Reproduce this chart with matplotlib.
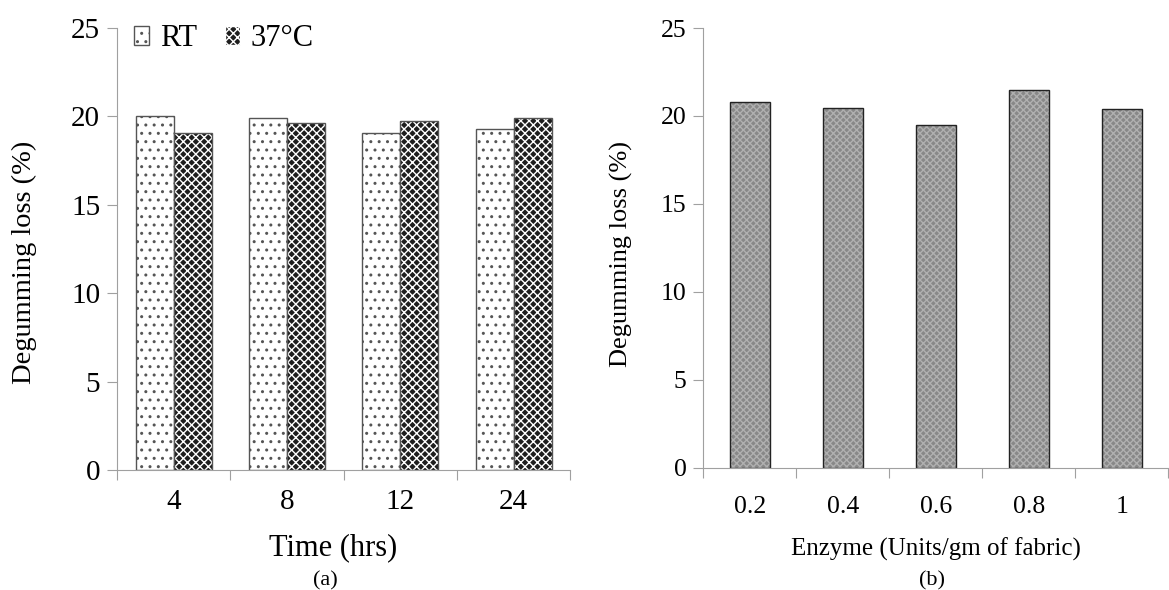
import numpy as np
import matplotlib.pyplot as plt
from matplotlib.patches import Patch

plt.rcParams['font.family'] = ['Liberation Serif', 'DejaVu Serif']
plt.rcParams['hatch.linewidth'] = 1.0

# data
time_labels = ['4', '8', '12', '24']
rt_loss = [20.0, 19.9, 19.05, 19.3]
warm_loss = [19.05, 19.65, 19.75, 19.9]

enzyme_labels = ['0.2', '0.4', '0.6', '0.8', '1']
enzyme_loss = [20.8, 20.45, 19.5, 21.45, 20.4]

AX_GRAY = '#a0a0a0'


def style_axes(ax, n, labels, tick_size, pad):
    ax.set_xlim(-0.5, n - 0.5)
    ax.set_ylim(0, 25)
    ax.set_yticks(range(0, 26, 5))
    ax.set_xticks(np.arange(-0.5, n, 1.0))
    ax.set_xticklabels([])
    ax.set_xticks(np.arange(n), minor=True)
    ax.set_xticklabels(labels, minor=True)
    ax.tick_params(axis='x', which='minor', length=0, pad=pad, labelsize=tick_size)
    ax.tick_params(axis='x', which='major', length=7, color=AX_GRAY)
    ax.tick_params(axis='y', length=7, color=AX_GRAY, labelsize=tick_size, pad=5)
    for s in ['top', 'right']:
        ax.spines[s].set_visible(False)
    for s in ['left', 'bottom']:
        ax.spines[s].set_color(AX_GRAY)


fig = plt.figure(figsize=(11.69, 5.9), dpi=100)

# (a) time
ax1 = fig.add_axes([0.100, 0.2034, 0.388, 0.749])
x = np.arange(len(time_labels))
w = 0.335
ax1.bar(x - w / 2, rt_loss, w, facecolor='white', edgecolor='#555555',
        hatch='..', linewidth=1.0)
ax1.bar(x + w / 2, warm_loss, w, facecolor='#1e1e1e', edgecolor='white',
        hatch='xxxx', linewidth=0)
ax1.bar(x + w / 2, warm_loss, w, facecolor='none', edgecolor='#555555',
        linewidth=1.0)
style_axes(ax1, len(time_labels), time_labels, 21, 14)
ax1.set_ylabel('Degumming loss (%)', fontsize=20.5, ha='center', va='center')
ax1.yaxis.set_label_coords(-0.203, 0.47)
ax1.set_xlabel('Time (hrs)', fontsize=22, ha='center', va='center')
ax1.xaxis.set_label_coords(0.476, -0.1765)
handles = [Patch(facecolor='white', edgecolor='#555555', hatch='..', label='RT'),
           Patch(facecolor='#1e1e1e', edgecolor='white', hatch='xxxx', label='37°C')]
ax1.legend(handles=handles, loc='upper left', ncol=2, frameon=False,
           fontsize=22, handlelength=0.5, handleheight=0.55, handletextpad=0.35,
           columnspacing=0.9, borderaxespad=0.0, bbox_to_anchor=(0.011, 1.036))
fig.text(0.278, 0.008, '(a)', ha='center', fontsize=16)

# (b) enzyme
ax2 = fig.add_axes([0.6015, 0.207, 0.398, 0.7455])
x2 = np.arange(len(enzyme_labels))
ax2.bar(x2, enzyme_loss, 0.43, facecolor='#888888', edgecolor='#b0b0b0',
        hatch='xxxxx', linewidth=0)
ax2.bar(x2, enzyme_loss, 0.43, facecolor='none', edgecolor='#222222',
        linewidth=1.0)
style_axes(ax2, len(enzyme_labels), enzyme_labels, 18.5, 20)
ax2.set_ylabel('Degumming loss (%)', fontsize=19, ha='center', va='center')
ax2.yaxis.set_label_coords(-0.176, 0.486)
ax2.set_xlabel('Enzyme (Units/gm of fabric)', fontsize=18, ha='center', va='center')
ax2.xaxis.set_label_coords(0.5, -0.186)
fig.text(0.797, 0.008, '(b)', ha='center', fontsize=16)

fig.savefig('out.png', dpi=100)
